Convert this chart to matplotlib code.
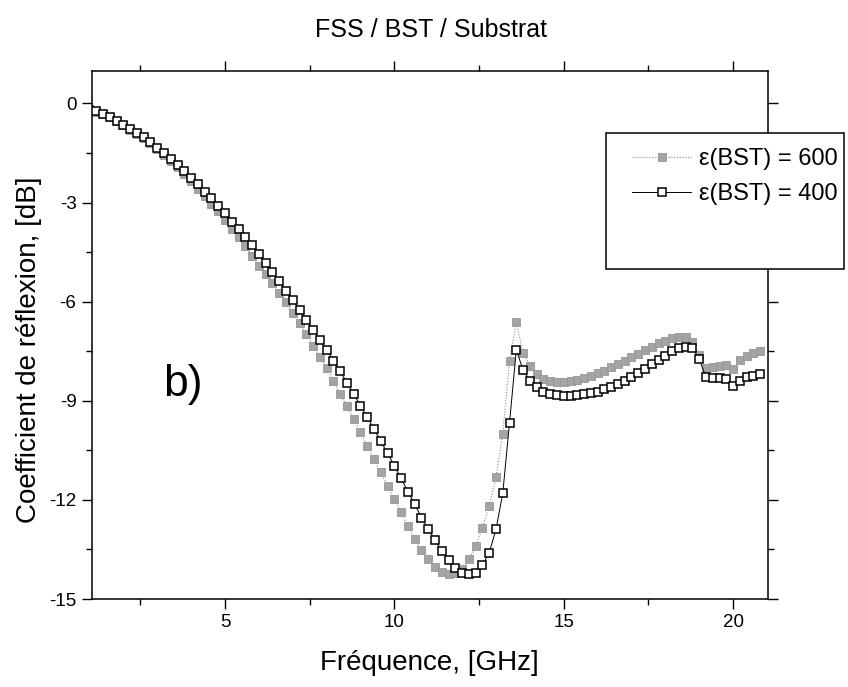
import matplotlib
matplotlib.use('Agg')
import matplotlib.pyplot as plt
from matplotlib.patches import Rectangle
from matplotlib.ticker import MultipleLocator, FixedLocator

freq = [1.0, 1.2, 1.4, 1.6, 1.8, 2.0, 2.2, 2.4, 2.6, 2.8,
        3.0, 3.2, 3.4, 3.6, 3.8, 4.0, 4.2, 4.4, 4.6, 4.8,
        5.0, 5.2, 5.4, 5.6, 5.8, 6.0, 6.2, 6.4, 6.6, 6.8,
        7.0, 7.2, 7.4, 7.6, 7.8, 8.0, 8.2, 8.4, 8.6, 8.8,
        9.0, 9.2, 9.4, 9.6, 9.8, 10.0, 10.2, 10.4, 10.6, 10.8,
        11.0, 11.2, 11.4, 11.6, 11.8, 12.0, 12.2, 12.4, 12.6, 12.8,
        13.0, 13.2, 13.4, 13.6, 13.8, 14.0, 14.2, 14.4, 14.6, 14.8,
        15.0, 15.2, 15.4, 15.6, 15.8, 16.0, 16.2, 16.4, 16.6, 16.8,
        17.0, 17.2, 17.4, 17.6, 17.8, 18.0, 18.2, 18.4, 18.6, 18.8,
        19.0, 19.2, 19.4, 19.6, 19.8, 20.0, 20.2, 20.4, 20.6, 20.8]

eps600 = [-0.19, -0.25, -0.32, -0.42, -0.54, -0.66, -0.79, -0.92, -1.05, -1.21,
          -1.38, -1.55, -1.74, -1.93, -2.15, -2.36, -2.58, -2.81, -3.03, -3.27,
          -3.52, -3.80, -4.05, -4.33, -4.61, -4.91, -5.16, -5.44, -5.75, -6.02,
          -6.35, -6.66, -6.98, -7.33, -7.67, -8.01, -8.41, -8.80, -9.15, -9.55,
          -9.96, -10.36, -10.77, -11.17, -11.58, -11.98, -12.38, -12.79, -13.19, -13.53,
          -13.80, -14.03, -14.17, -14.23, -14.20, -14.10, -13.80, -13.39, -12.84, -12.18,
          -11.32, -10.00, -7.79, -6.63, -7.54, -7.94, -8.19, -8.34, -8.41, -8.44,
          -8.44, -8.41, -8.37, -8.31, -8.24, -8.17, -8.09, -7.99, -7.89, -7.79,
          -7.69, -7.59, -7.46, -7.36, -7.26, -7.18, -7.10, -7.06, -7.08, -7.23,
          -7.60, -8.00, -7.98, -7.94, -7.92, -8.05, -7.78, -7.66, -7.56, -7.48]

eps400 = [-0.19, -0.24, -0.31, -0.41, -0.53, -0.64, -0.77, -0.90, -1.02, -1.17,
          -1.34, -1.50, -1.68, -1.85, -2.06, -2.25, -2.45, -2.67, -2.87, -3.09,
          -3.32, -3.58, -3.80, -4.05, -4.30, -4.57, -4.84, -5.11, -5.38, -5.67,
          -5.95, -6.25, -6.55, -6.85, -7.16, -7.46, -7.79, -8.11, -8.45, -8.80,
          -9.15, -9.50, -9.86, -10.23, -10.59, -10.97, -11.35, -11.75, -12.13, -12.54,
          -12.89, -13.22, -13.55, -13.83, -14.07, -14.20, -14.25, -14.20, -13.98, -13.60,
          -12.89, -11.80, -9.66, -7.46, -8.07, -8.39, -8.58, -8.73, -8.80, -8.83,
          -8.85, -8.85, -8.83, -8.80, -8.77, -8.73, -8.65, -8.58, -8.49, -8.39,
          -8.29, -8.17, -8.04, -7.89, -7.77, -7.64, -7.48, -7.40, -7.36, -7.40,
          -7.74, -8.29, -8.31, -8.31, -8.34, -8.55, -8.39, -8.29, -8.24, -8.19]

x_ticks = [5, 10, 15, 20]
y_ticks = [0, -3, -6, -9, -12, -15]
series_labels = ['ε(BST) = 600', 'ε(BST) = 400']
title = 'FSS / BST / Substrat'
x_label = 'Fréquence, [GHz]'
y_label = 'Coefficient de réflexion, [dB]'
panel = 'b)'

plt.rcParams['font.family'] = ['Liberation Sans', 'DejaVu Sans']
plt.rcParams['axes.unicode_minus'] = False

W, H = 848, 687
fig = plt.figure(figsize=(W / 100, H / 100), dpi=100)
L, R, T, B = 91.7, 768.0, 70.7, 599.0
ax = fig.add_axes([L / W, 1 - B / H, (R - L) / W, (B - T) / H])

grey_line, = ax.plot(freq, eps600, ls=(0, (1, 1.5)), lw=0.8, color='#8a8a8a',
                     marker='s', ms=5.5, mfc='#a4a4a4', mec='#969696', mew=0.6,
                     zorder=2)
black_line, = ax.plot(freq, eps400, ls='-', lw=0.7, color='black',
                      marker='s', ms=5.5, mfc='white', mec='black', mew=1.1,
                      zorder=3)

ax.set_xlim(1.065, 21.03)
ax.set_ylim(-15, 0.99)
ax.xaxis.set_major_locator(FixedLocator(x_ticks))
ax.xaxis.set_minor_locator(MultipleLocator(2.5))
ax.yaxis.set_major_locator(FixedLocator(y_ticks))
ax.yaxis.set_minor_locator(MultipleLocator(1.5))
ax.tick_params(which='both', direction='out', top=True, right=True,
               labeltop=False, labelright=False, width=1.0, labelsize=13.5)
ax.tick_params(which='major', length=7, pad=4)
ax.tick_params(which='minor', length=4)
for s in ax.spines.values():
    s.set_linewidth(1.1)

ax.set_xlabel(x_label, fontsize=20)
ax.xaxis.label.set_va('center')
ax.xaxis.set_label_coords(0.5, (B - 663) / (B - T))
ax.set_ylabel(y_label, fontsize=20)
ax.yaxis.label.set_va('center')
ax.yaxis.set_label_coords((29 - L) / (R - L), (B - 350) / (B - T))

fig.text(0.508, 1 - 30 / H, title, ha='center', va='center', fontsize=18)

ax.text(3.17, -8.52, panel, fontsize=32, ha='left', va='center')

# legend box
lx0, lx1, ly0, ly1 = 606, 844, 133, 269
rect = Rectangle((lx0 / W, 1 - ly1 / H), (lx1 - lx0) / W, (ly1 - ly0) / H,
                 transform=fig.transFigure, facecolor='white', edgecolor='black',
                 linewidth=1.1, zorder=5)
fig.patches.append(rect)
leg = fig.legend([grey_line, black_line], series_labels, loc='upper left',
                 bbox_to_anchor=(632 / W, 1 - 148 / H), frameon=False,
                 fontsize=17, handlelength=2.5, handletextpad=0.35,
                 borderpad=0, borderaxespad=0, labelspacing=0.55, numpoints=1)
leg.set_zorder(6)

fig.savefig('out.png', dpi=100)
